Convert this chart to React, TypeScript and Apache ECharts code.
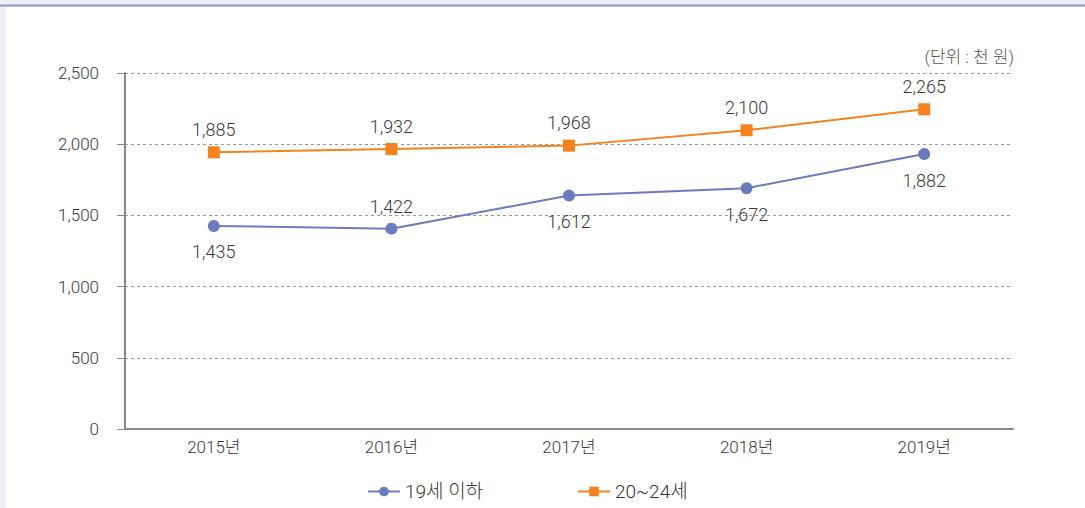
import React, { useEffect, useRef } from "react";
import * as echarts from "echarts";

const categories = ["2015년", "2016년", "2017년", "2018년", "2019년"];
const seriesNames = ["19세 이하", "20~24세"];
// plotted positions (as drawn in the reference)
const under19Values = [1426, 1407, 1639, 1691, 1931];
const age20to24Values = [1943, 1966, 1990, 2098, 2245];
// printed data labels
const under19Labels = ["1,435", "1,422", "1,612", "1,672", "1,882"];
const age20to24Labels = ["1,885", "1,932", "1,968", "2,100", "2,265"];
const under19LabelPos = ["bottom", "top", "bottom", "bottom", "bottom"];
const yTicks = { min: 0, max: 2500, interval: 500 };
const unitText = "(단위 : 천 원)";

const FONT = "Roboto, 'Noto Sans CJK KR', sans-serif";
const TEXT = "#3a3a3a";
const BLUE = "#6c7bbf";
const ORANGE = "#f5821f";
const W = 300;

export default function App() {
  const ref = useRef<HTMLDivElement>(null);
  useEffect(() => {
    if (!ref.current) return;
    const chart = echarts.init(ref.current, null, { renderer: "svg" });
    const labelsBySeries = [under19Labels, age20to24Labels];
    chart.setOption({
      animation: false,
      backgroundColor: "#eef0f5",
      textStyle: { fontFamily: FONT, fontWeight: W },
      graphic: [
        { type: "rect", shape: { x: 6, y: 6, width: 1079, height: 502 }, style: { fill: "#ffffff" }, silent: true, z: -10 },
        { type: "line", shape: { x1: 0, y1: 5.5, x2: 1085, y2: 5.5 }, style: { stroke: "#8d96c8", lineWidth: 2 }, silent: true, z: -9 },
        {
          type: "text",
          x: 1014,
          y: 57,
          style: { text: unitText, fill: "#555", font: `${W} 17px ${FONT}`, textAlign: "right", textVerticalAlign: "middle" },
        },
      ],
      grid: { left: 125, right: 72, top: 73, bottom: 79 },
      legend: [
        {
          data: [seriesNames[0]],
          left: 362,
          top: 477,
          itemWidth: 32,
          itemHeight: 12,
          textStyle: { fontSize: 19, color: "#333", fontFamily: FONT, fontWeight: W },
        },
        {
          data: [seriesNames[1]],
          left: 572,
          top: 477,
          itemWidth: 32,
          itemHeight: 12,
          textStyle: { fontSize: 19, color: "#333", fontFamily: FONT, fontWeight: W },
        },
      ],
      xAxis: {
        type: "category",
        data: categories,
        boundaryGap: true,
        axisLine: { lineStyle: { color: "#888", width: 2 } },
        axisTick: { show: false },
        axisLabel: { color: TEXT, fontSize: 17, margin: 9, fontFamily: FONT, fontWeight: W },
      },
      yAxis: {
        type: "value",
        min: yTicks.min,
        max: yTicks.max,
        interval: yTicks.interval,
        axisLine: { show: true, lineStyle: { color: "#888", width: 2 } },
        axisTick: { show: true, length: 8, lineStyle: { color: "#888", width: 1 } },
        axisLabel: {
          color: TEXT,
          fontSize: 17,
          margin: 26,
          fontFamily: FONT,
          fontWeight: W,
          formatter: (v: number) => v.toLocaleString("en-US"),
        },
        splitLine: { lineStyle: { color: "#999", type: [3, 3], width: 1 } },
      },
      series: [
        {
          name: seriesNames[0],
          type: "line",
          data: under19Values.map((v, i) => ({
            value: v,
            label: { position: under19LabelPos[i], distance: under19LabelPos[i] === "top" ? 7 : 11 },
          })),
          symbol: "circle",
          symbolSize: 12,
          itemStyle: { color: BLUE },
          lineStyle: { color: BLUE, width: 2 },
          label: {
            show: true,
            color: TEXT,
            fontSize: 18,
            fontFamily: FONT,
            fontWeight: W,
            formatter: (p: any) => labelsBySeries[0][p.dataIndex],
          },
        },
        {
          name: seriesNames[1],
          type: "line",
          data: age20to24Values,
          symbol: "rect",
          symbolSize: 12,
          itemStyle: { color: ORANGE },
          lineStyle: { color: ORANGE, width: 2 },
          label: {
            show: true,
            position: "top",
            distance: 8,
            color: TEXT,
            fontSize: 18,
            fontFamily: FONT,
            fontWeight: W,
            formatter: (p: any) => labelsBySeries[1][p.dataIndex],
          },
        },
      ],
    });
    return () => chart.dispose();
  }, []);
  return <div ref={ref} style={{ position: "fixed", left: 0, top: 0, width: 1085, height: 508 }} />;
}
